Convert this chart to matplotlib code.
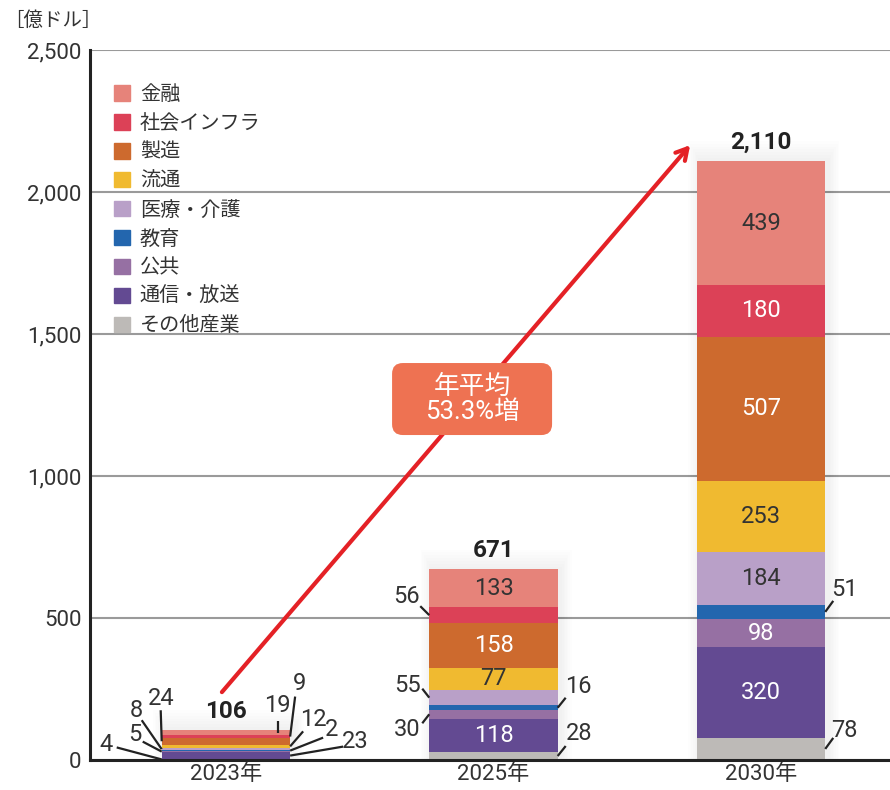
import matplotlib
matplotlib.use("Agg")
import matplotlib.pyplot as plt
from matplotlib.patches import Patch, Rectangle, FancyBboxPatch
import numpy as np

plt.rcParams['font.family'] = ['Roboto', 'Noto Sans CJK JP', 'DejaVu Sans']

years = ["2023年", "2025年", "2030年"]
categories = ["その他産業", "通信・放送", "公共", "教育", "医療・介護", "流通", "製造", "社会インフラ", "金融"]
colors = ["#BDBAB7", "#634A92", "#9670A3", "#2366AE", "#B9A0C8", "#F0BA30", "#CD6A2E", "#DC4157", "#E6837A"]
text_colors = ["#333333", "white", "white", "white", "#333333", "#333333", "white", "white", "#333333"]

# values bottom -> top, per year
v2023 = [4, 23, 5, 2, 8, 12, 24, 9, 19]
v2025 = [28, 118, 30, 16, 55, 77, 158, 56, 133]
v2030 = [78, 320, 98, 51, 184, 253, 507, 180, 439]
totals = ["106", "671", "2,110"]
values = np.array([v2023, v2025, v2030])

# outside labels: (bar, category, side, start_dx, line_dx, line_dy, text_dx, text_dy)  offsets in pixels
outside = [
    (0, 0, "L", 0, -45, 12, -56, 15),
    (0, 2, "L", 0, -19, 10, -27, 17),
    (0, 4, "L", 0, -20, 29, -25, 39),
    (0, 6, "L", 0, -1, 31, -1, 43),
    (0, 1, "R", 0, 53, 9, 65, 14),
    (0, 3, "R", 0, 33, 13, 41, 21),
    (0, 5, "R", 0, 13, 15, 23, 27),
    (0, 7, "R", 0, 5, 40, 9, 53),
    (0, 8, "R", -12, -12, 12, -13, 27),
    (1, 7, "L", 0, -9, 9, -23, 19),
    (1, 4, "L", 0, -7, 9, -22, 12),
    (1, 2, "L", 0, -7, -9, -22, -15),
    (1, 3, "R", 0, 8, 10, 21, 21),
    (1, 0, "R", 0, 8, 10, 21, 23),
    (2, 3, "R", 0, 8, 11, 19, 22),
    (2, 0, "R", 0, 8, 11, 19, 18),
]

fig = plt.figure(figsize=(8.9, 7.9), dpi=100)
ax = fig.add_axes([90 / 890, 30 / 790, 800 / 890, 710 / 790])

x = np.arange(len(years))
width = 0.48
ax.set_xlim(-0.508, 2.482)
ax.set_ylim(0, 2500)

# soft shadow behind bars
for i in range(len(years)):
    top = values[i].sum()
    for k in range(1, 8):
        pad = 0.006 * k
        ax.add_patch(Rectangle((x[i] - width / 2 - pad + 0.01, -10), width + 2 * pad, top + 10 + 10 * k,
                               fc="#000000", alpha=0.009, ec="none", zorder=1))

bottoms = np.zeros(len(years))
for c in range(len(categories)):
    ax.bar(x, values[:, c], width, bottom=bottoms, color=colors[c], label=categories[c], zorder=2)
    bottoms += values[:, c]

cum = np.cumsum(values, axis=1)
mids = cum - values / 2

out_set = set((o[0], o[1]) for o in outside)
for i in range(1, 3):
    for c in range(len(categories)):
        if (i, c) in out_set:
            continue
        ax.text(x[i], mids[i, c], str(values[i, c]), ha="center", va="center",
                fontsize=17, color=text_colors[c], zorder=4)

for (i, c, side, sdx, ldx, ldy, tdx, tdy) in outside:
    ex = x[i] - width / 2 if side == "L" else x[i] + width / 2
    xy = (ex, mids[i, c])
    p0 = ax.transData.transform(xy)
    start = ax.transData.inverted().transform((p0[0] + sdx, p0[1]))
    end = ax.transData.inverted().transform((p0[0] + ldx, p0[1] + ldy))
    tpos = ax.transData.inverted().transform((p0[0] + tdx, p0[1] + tdy))
    ax.plot([start[0], end[0]], [start[1], end[1]], color="#222222", lw=1.6, zorder=5,
            solid_capstyle="butt", clip_on=False)
    ax.text(tpos[0], tpos[1], str(values[i, c]), ha="center", va="center", fontsize=17,
            color="#333333", zorder=5)

for i in range(len(years)):
    ax.annotate(totals[i], (x[i], values[i].sum()), xytext=(0, 5), textcoords="offset points",
                ha="center", va="bottom", fontsize=17.5, fontweight="bold", color="#222222")

# growth arrow
ax.annotate("", xy=(1.735, 2165), xytext=(-0.015, 239),
            arrowprops=dict(arrowstyle="->,head_length=0.8,head_width=0.45", color="#E42126", lw=3,
                            shrinkA=0, shrinkB=0), zorder=6)
bx, by = 0.92, 1271
bw = 160 / (800 / (ax.get_xlim()[1] - ax.get_xlim()[0]))
bh = 72 / (710 / 2500)
asp = (2500 / 710) / ((ax.get_xlim()[1] - ax.get_xlim()[0]) / 800)
ax.add_patch(FancyBboxPatch((bx - bw / 2, by - bh / 2), bw, bh,
                            boxstyle="round,pad=0,rounding_size=0.04", mutation_aspect=asp,
                            fc="#EE7252", ec="none", zorder=7))
ax.text(bx, by, "年平均\n53.3%増", ha="center", va="center", fontsize=18.5, color="white",
        linespacing=1.05, zorder=8)

ax.set_yticks([0, 500, 1000, 1500, 2000, 2500])
ax.set_yticklabels(["0", "500", "1,000", "1,500", "2,000", "2,500"], fontsize=16, color="#333333")
ax.set_xticks(x)
ax.set_xticklabels(years, fontsize=16, color="#333333")
ax.tick_params(axis="both", length=0, pad=6)
ax.tick_params(axis="x", pad=3)
ax.yaxis.grid(True, color="#9A9A9A", lw=1.5, zorder=0)
ax.set_axisbelow(True)
for s in ["top", "right"]:
    ax.spines[s].set_visible(False)
ax.spines["left"].set_linewidth(2.2)
ax.spines["bottom"].set_linewidth(2.2)
ax.spines["left"].set_color("#222222")
ax.spines["bottom"].set_color("#222222")

handles = [Patch(color=colors[c], label=categories[c]) for c in range(len(categories) - 1, -1, -1)]
ax.legend(handles=handles, loc="upper left", bbox_to_anchor=(0.007, 0.976), frameon=False,
          fontsize=14.5, labelspacing=0.49, handlelength=0.8, handleheight=0.8, handletextpad=0.5,
          labelcolor="#333333")

fig.text(4 / 890, 1 - 20 / 790, "［億ドル］", fontsize=14, color="#333333", va="center", ha="left",
         family=["Noto Sans CJK JP"])

fig.savefig("out.png", dpi=100)
